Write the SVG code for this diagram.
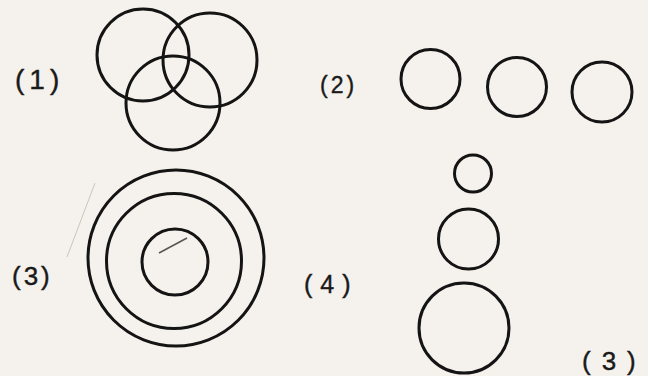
<svg xmlns="http://www.w3.org/2000/svg" width="648" height="376" viewBox="0 0 648 376">
  <style>
    .c { fill: none; stroke: #141414; stroke-width: 3; }
    .t { font-family: "Liberation Sans", Arial, sans-serif; fill: #1a1a1a; stroke: #1a1a1a; stroke-width: 0.4; }
  </style>
  <rect x="0" y="0" width="648" height="376" fill="#f5f2ed"/>

  <g id="fig1">
    <circle class="c" cx="143" cy="55" r="46" />
    <circle class="c" cx="210" cy="60" r="47" />
    <circle class="c" cx="173" cy="103" r="47" />
    <text class="t" x="15" y="89" font-size="28" letter-spacing="5">(1)</text>
  </g>

  <g id="fig2">
    <circle class="c" cx="430.5" cy="79" r="29.5" />
    <circle class="c" cx="517" cy="87" r="29.5" />
    <circle class="c" cx="602" cy="92" r="30" />
    <text class="t" x="320" y="93" font-size="23" letter-spacing="3">(2)</text>
  </g>

  <g id="fig3">
    <circle class="c" cx="176" cy="258" r="88" />
    <circle class="c" cx="174" cy="261" r="67.5" />
    <circle class="c" cx="175" cy="262" r="33" />
    <line x1="159" y1="253" x2="187" y2="238" stroke="#555" stroke-width="1.5" />
    <line x1="95" y1="183" x2="67" y2="257" stroke="#c8c4bd" stroke-width="1" />
    <text class="t" x="12" y="285" font-size="26" letter-spacing="3">(3)</text>
  </g>

  <g id="fig4">
    <circle class="c" cx="473" cy="173.5" r="18.5" />
    <circle class="c" cx="468.5" cy="239" r="30" />
    <circle class="c" cx="464" cy="328" r="45" />
    <text class="t" x="304" y="293" font-size="25" letter-spacing="8">(4)</text>
  </g>

  <text id="answer" class="t" x="582" y="370" font-size="26" letter-spacing="11">(3)</text>
</svg>
